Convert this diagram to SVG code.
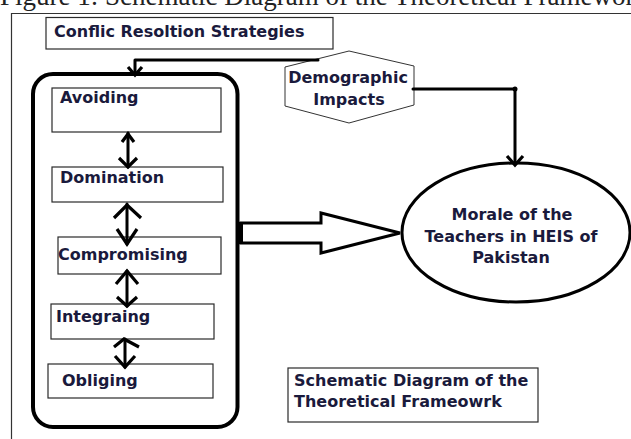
<svg xmlns="http://www.w3.org/2000/svg" width="631" height="439" viewBox="0 0 631 439">
<style>
.lbl{font-family:"DejaVu Sans",sans-serif;font-weight:bold;font-size:16px;fill:#1a1a3c}
.box{fill:#fff;stroke:#2a2a2a;stroke-width:1.2}
.thick{fill:none;stroke:#000;stroke-width:3;stroke-linejoin:round;stroke-linecap:round}
.head{fill:none;stroke:#000;stroke-width:3.2;stroke-linejoin:miter;stroke-linecap:butt}
</style>
<rect width="631" height="439" fill="#fff"/>
<text x="0" y="5" font-family="Liberation Serif, serif" font-size="27" fill="#222">Figure 1: Schematic Diagram of the Theoretical Framework</text>
<path d="M11.5,439 V13.5 H631" fill="none" stroke="#333" stroke-width="1.2"/>

<g id="title">
<rect class="box" x="46" y="17.5" width="287" height="31.5"/>
<text class="lbl" x="54" y="37">Conflic Resoltion Strategies</text>
</g>

<g id="strategies">
<rect x="33" y="74" width="204.5" height="353" rx="20" ry="20" fill="none" stroke="#000" stroke-width="4"/>
</g>
<g id="avoiding">
<rect class="box" x="52" y="88" width="169" height="44"/>
<text class="lbl" x="60" y="103">Avoiding</text>
</g>
<g id="domination">
<rect class="box" x="52" y="167" width="171" height="35"/>
<text class="lbl" x="60" y="183">Domination</text>
</g>
<g id="compromising">
<rect class="box" x="58" y="237" width="163" height="37"/>
<text class="lbl" x="58" y="260">Compromising</text>
</g>
<g id="integraing">
<rect class="box" x="51" y="304" width="163" height="35"/>
<text class="lbl" x="56" y="322">Integraing</text>
</g>
<g id="obliging">
<rect class="box" x="48" y="364" width="165" height="34"/>
<text class="lbl" x="62" y="386">Obliging</text>
</g>

<g id="demographic">
<polygon points="349,51 414,66 414,105 349,123 285,106 285,67" fill="#fff" stroke="#333" stroke-width="1"/>
<text class="lbl" x="348" y="83" text-anchor="middle">Demographic</text>
<text class="lbl" x="349" y="105" text-anchor="middle">Impacts</text>
</g>

<g id="morale">
<ellipse cx="516" cy="232.5" rx="114" ry="69.5" fill="#fff" stroke="#000" stroke-width="3"/>
<text class="lbl" x="512" y="220" text-anchor="middle">Morale of the</text>
<text class="lbl" x="511" y="242" text-anchor="middle">Teachers in HEIS of</text>
<text class="lbl" x="511" y="263" text-anchor="middle">Pakistan</text>
</g>

<g id="caption">
<rect class="box" x="288" y="368" width="250" height="54"/>
<text class="lbl" x="294" y="386">Schematic Diagram of the</text>
<text class="lbl" x="294" y="407">Theoretical Frameowrk</text>
</g>

<g id="connectors">
<path class="thick" d="M318,60 H135 V74"/>
<path class="head" d="M128,67 L135,75 L142,67"/>
<path class="thick" d="M413,89 H515 V163"/>
<circle cx="515" cy="89" r="2.5" fill="#000"/>
<path class="head" d="M507,156 L515,165 L523,156"/>
<path d="M241,223 H321 V213 L400,233 L321,253 V243 H241 Z" fill="#fff" stroke="#000" stroke-width="3" stroke-linejoin="miter"/>
<rect x="236" y="222" width="7" height="22" fill="#000"/>
<path class="thick" d="M128,133 V167"/>
<path class="head" d="M122,142 L128,134 L134,142"/>
<path class="head" d="M119,158 L128,167 L137,158"/>
<path class="thick" d="M127,204 V244"/>
<path class="head" d="M114,218 L127,205 L141,218"/>
<path class="head" d="M117,229 L127,244 L137,229"/>
<path class="thick" d="M127,271 V306"/>
<path class="head" d="M116,284 L127,271 L138,284"/>
<path class="head" d="M117,297 L127,306 L137,297"/>
<path class="thick" d="M125,339 V367"/>
<path class="head" d="M114,347 L124,339 L139,347"/>
<path class="head" d="M115,356 L125,367 L135,356"/>
</g>
</svg>
